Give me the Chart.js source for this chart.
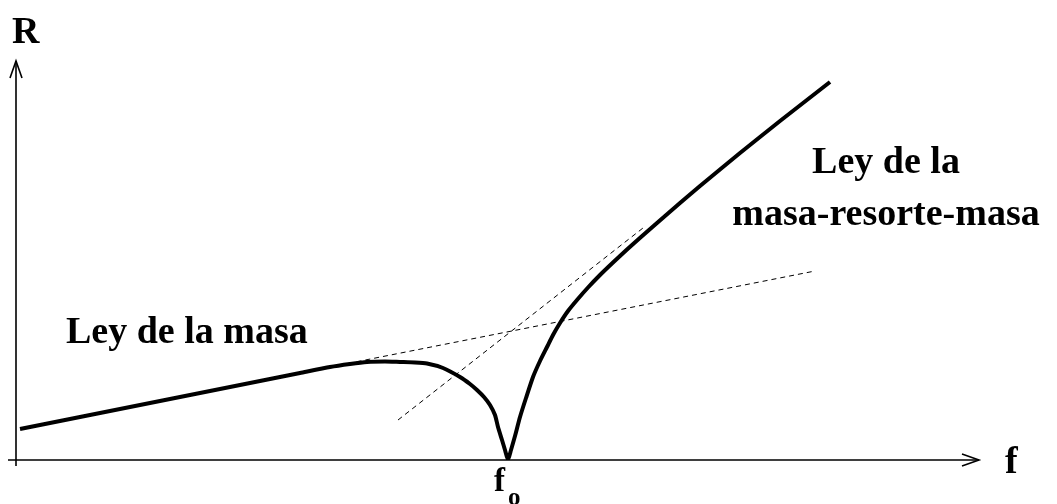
<!DOCTYPE html>
<html>
<head>
<meta charset="utf-8">
<script src="https://cdn.jsdelivr.net/npm/chart.js@4/dist/chart.umd.min.js"></script>
<style>
  html, body { margin: 0; padding: 0; background: #fff; }
  #wrap { width: 1057px; height: 504px; }
</style>
</head>
<body>
<div id="wrap"><canvas id="chart"></canvas></div>
<script>
// --- Data (f along x, R along y, arbitrary units) ---
const curveF = [4, 84, 164, 244, 284, 314, 334, 351, 369, 384, 399, 411, 427, 444, 454, 461, 468, 474, 479, 482, 486, 489, 492,
                495, 499, 504, 510, 517, 524, 531, 537, 544, 552, 561, 572, 584, 597, 611, 625, 641, 664, 684, 724, 764, 814];
const curveR = [31, 47, 63, 79, 87, 93, 96, 98, 98.5, 98, 97.5, 96.5, 92, 83, 76, 70, 63, 55, 45, 33, 20, 10, 0,
                10, 24, 43, 62, 83, 99, 113, 125, 137, 149, 160, 172.5, 185, 197.5, 210.5, 223, 237, 257, 274, 307, 339, 378];

const massLawF = [314, 799];
const massLawR = [93, 189];

const springLawF = [382, 627];
const springLawR = [40, 232];

const F_MAX = 964;
const R_MAX = 400;
const F0 = 491;

const FONT = 'bold 38px "Liberation Serif", "Times New Roman", serif';
const F0_FONT = 'bold 33px "Liberation Serif", "Times New Roman", serif';
const SUB_FONT = 'bold 25px "Liberation Serif", "Times New Roman", serif';

const toXY = (xs, ys) => xs.map((x, i) => ({ x: x, y: ys[i] }));

// --- Axes with open arrowheads + text labels ---
const sketchPlugin = {
    id: 'sketch',
    afterDatasetsDraw(chart) {
        const c = chart.ctx;
        const sx = chart.scales.x, sy = chart.scales.y;
        const x0 = sx.getPixelForValue(0), y0 = sy.getPixelForValue(0);
        const xEnd = sx.getPixelForValue(F_MAX), yEnd = sy.getPixelForValue(R_MAX);

        c.save();
        c.strokeStyle = '#000';
        c.lineWidth = 1.6;
        c.beginPath();
        c.moveTo(x0 - 8, y0); c.lineTo(xEnd - 2, y0);
        c.moveTo(x0, y0 + 6); c.lineTo(x0, yEnd + 2);
        c.stroke();

        // arrowheads
        c.beginPath();
        c.moveTo(xEnd - 18, y0 - 6); c.lineTo(xEnd - 1, y0); c.lineTo(xEnd - 18, y0 + 6);
        c.moveTo(x0 - 6, yEnd + 18); c.lineTo(x0, yEnd + 1); c.lineTo(x0 + 6, yEnd + 18);
        c.stroke();

        // labels
        c.fillStyle = '#000';
        c.font = FONT;
        c.textBaseline = 'alphabetic';
        c.textAlign = 'left';
        c.fillText('R', x0 - 4, yEnd - 17);
        c.fillText('f', xEnd + 25, y0 + 13);
        c.fillText('Ley de la masa', sx.getPixelForValue(50), sy.getPixelForValue(117));

        c.textAlign = 'center';
        const cx = sx.getPixelForValue(870);
        c.fillText('Ley de la', cx, sy.getPixelForValue(287));
        c.fillText('masa-resorte-masa', cx, sy.getPixelForValue(235));

        // f0 with subscript
        const fx = sx.getPixelForValue(F0);
        c.textAlign = 'left';
        c.font = F0_FONT;
        c.fillText('f', fx - 13, y0 + 31);
        c.font = SUB_FONT;
        c.fillText('o', fx + 1, y0 + 45);
        c.restore();
    }
};

new Chart(document.getElementById('chart'), {
    type: 'line',
    data: {
        datasets: [
            {
                data: toXY(curveF, curveR),
                borderColor: '#000',
                borderWidth: 4,
                pointRadius: 0,
                tension: 0.2,
                fill: false
            },
            {
                data: toXY(massLawF, massLawR),
                borderColor: '#000',
                borderWidth: 1,
                borderDash: [5, 4],
                pointRadius: 0,
                fill: false
            },
            {
                data: toXY(springLawF, springLawR),
                borderColor: '#000',
                borderWidth: 1,
                borderDash: [5, 4],
                pointRadius: 0,
                fill: false
            }
        ]
    },
    options: {
        responsive: true,
        maintainAspectRatio: false,
        animation: false,
        layout: { padding: { left: 16, top: 60, right: 77, bottom: 44 } },
        plugins: { legend: { display: false }, tooltip: { enabled: false } },
        scales: {
            x: { type: 'linear', min: 0, max: F_MAX, display: false },
            y: { type: 'linear', min: 0, max: R_MAX, display: false }
        }
    },
    plugins: [sketchPlugin]
});
</script>
</body>
</html>
